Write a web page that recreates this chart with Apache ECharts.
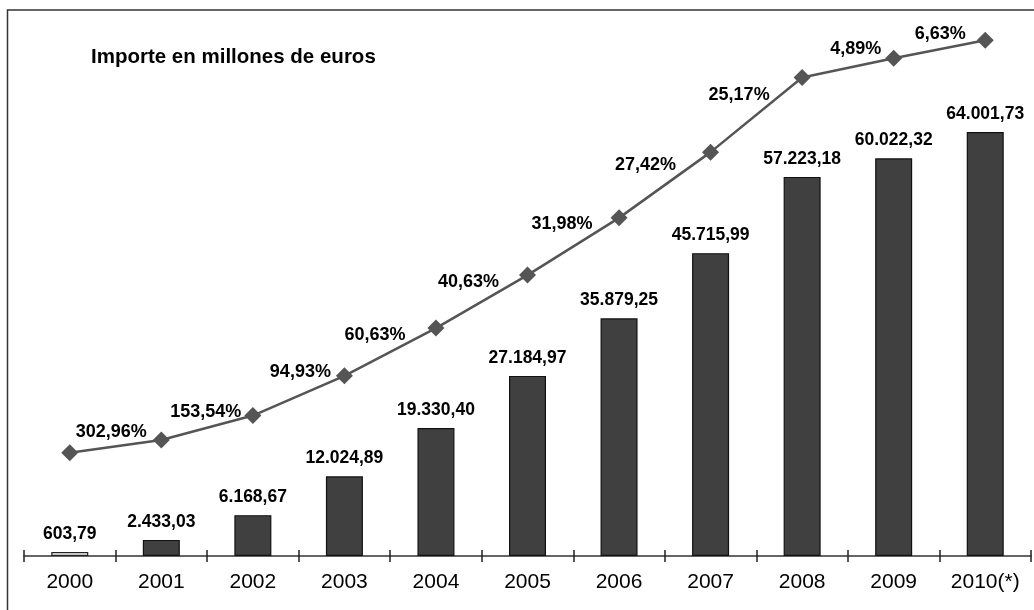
<!DOCTYPE html>
<html>
<head>
<meta charset="utf-8">
<title>Importe en millones de euros</title>
<script src="https://cdn.jsdelivr.net/npm/echarts@6/dist/echarts.min.js"></script>
<style>
  html, body { margin: 0; padding: 0; background: #fff; }
  #myChart { width: 1034px; height: 610px; }
</style>
</head>
<body>
<div id="myChart"></div>
<script>
// datos del grafico
const years = ["2000", "2001", "2002", "2003", "2004", "2005", "2006", "2007", "2008", "2009", "2010(*)"];
// importe en millones de euros
const importe = [603.79, 2433.03, 6168.67, 12024.89, 19330.40, 27184.97, 35879.25, 45715.99, 57223.18, 60022.32, 64001.73];
// variacion interanual (%)
const variacion = [null, 302.96, 153.54, 94.93, 60.63, 40.63, 31.98, 27.42, 25.17, 4.89, 6.63];
// altura de la linea de tendencia (escala 0-100, eje oculto)
const tendencia = [19.5, 21.9, 26.5, 34.0, 43.0, 53.0, 63.8, 76.2, 90.3, 93.9, 97.3];

// desplazamiento de cada etiqueta de porcentaje respecto al punto
const labelShift = [[0, 0], [-6, -8], [-3, -4], [-5, -4], [-22, 7], [-20, 7], [-18, 6], [-26, 13], [-24, 18], [-4, -9], [-11, -6]];

const FONT = "Arial, 'Liberation Sans', Helvetica, sans-serif";

// formato espanol: 12.024,89
function fmtEs(v) {
  const parts = v.toFixed(2).split(".");
  return parts[0].replace(/\B(?=(\d{3})+(?!\d))/g, ".") + "," + parts[1];
}

const myChart = echarts.init(document.getElementById("myChart"), null, { renderer: "canvas" });

const tickStyle = { color: "#222", width: 1.5 };

const option = {
  animation: false,
  backgroundColor: "#fff",
  textStyle: { fontFamily: FONT },
  graphic: [
    {
      type: "rect",
      shape: { x: 7.5, y: 10, width: 1100, height: 700 },
      style: { fill: "none", stroke: "#333", lineWidth: 1.5 },
      silent: true
    },
    {
      type: "text",
      left: 91,
      top: 47,
      style: {
        text: "Importe en millones de euros",
        font: "bold 20.5px " + FONT,
        fill: "#000"
      }
    }
  ],
  grid: { left: 24, right: 3, top: 26, bottom: 54 },
  xAxis: [
    {
      type: "category",
      data: years,
      axisLine: { lineStyle: { color: "#333", width: 1.5 } },
      axisTick: { show: true, interval: 0, length: 6, lineStyle: tickStyle },
      axisLabel: { color: "#000", fontSize: 21, margin: 16, fontFamily: FONT, interval: 0 }
    },
    {
      // marcas hacia arriba para que crucen el eje
      type: "category",
      data: years,
      position: "bottom",
      axisLine: { show: false },
      axisTick: { show: true, interval: 0, inside: true, length: 6, lineStyle: tickStyle },
      axisLabel: { show: false }
    }
  ],
  yAxis: [
    { type: "value", min: 0, max: 80000, show: false, splitLine: { show: false } },
    { type: "value", min: 0, max: 100, show: false, splitLine: { show: false } }
  ],
  series: [
    {
      name: "Importe",
      type: "bar",
      barWidth: 37,
      data: importe.map((v, i) => ({
        value: v,
        itemStyle: i === 0
          ? { color: "#fff", borderColor: "#222", borderWidth: 1.2 }
          : { color: "#404040", borderColor: "#111", borderWidth: 1.2 }
      })),
      label: {
        show: true,
        position: "top",
        distance: 9,
        color: "#000",
        fontWeight: "bold",
        fontSize: 17.5,
        fontFamily: FONT,
        formatter: p => fmtEs(p.value)
      }
    },
    {
      name: "Variacion",
      type: "line",
      yAxisIndex: 1,
      symbol: "diamond",
      symbolSize: 17,
      z: 5,
      lineStyle: { color: "#555", width: 2.5 },
      itemStyle: { color: "#555" },
      data: tendencia.map((v, i) => ({
        value: v,
        label: { offset: labelShift[i] }
      })),
      label: {
        show: true,
        position: "left",
        distance: 0,
        color: "#000",
        fontWeight: "bold",
        fontSize: 18,
        fontFamily: FONT,
        formatter: p => variacion[p.dataIndex] == null ? "" : variacion[p.dataIndex].toFixed(2).replace(".", ",") + "%"
      }
    }
  ]
};

myChart.setOption(option);
</script>
</body>
</html>
